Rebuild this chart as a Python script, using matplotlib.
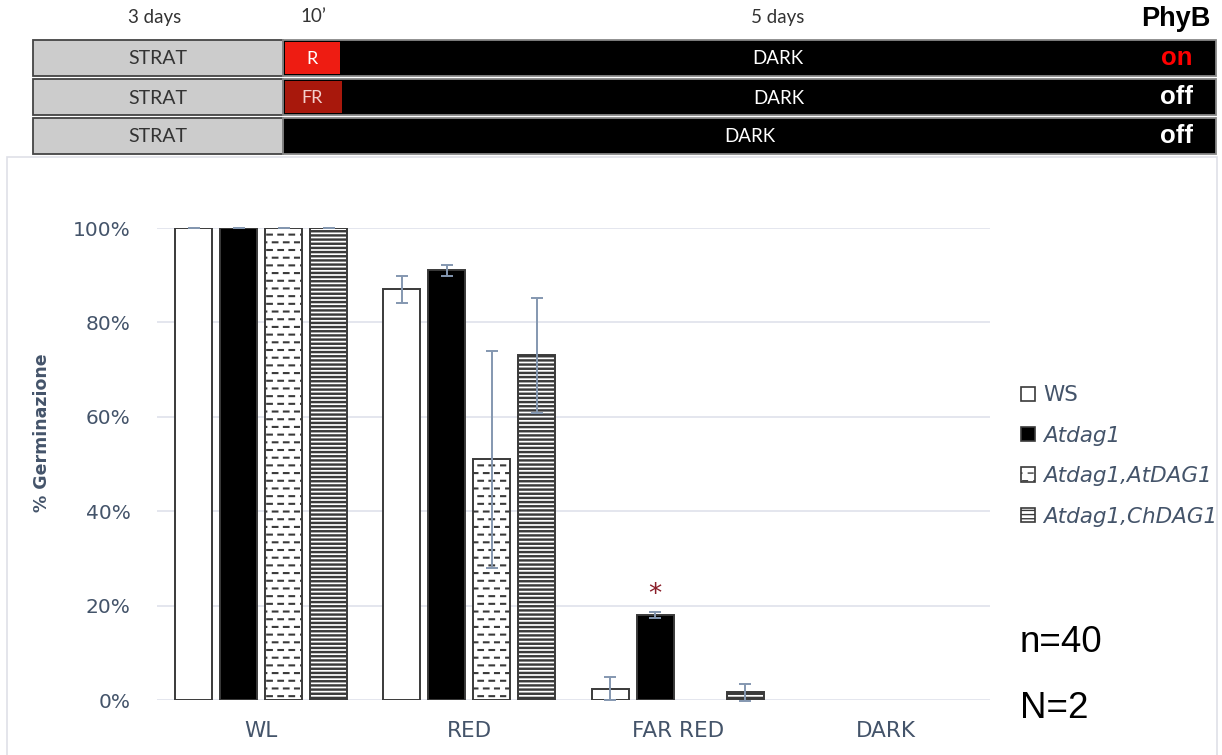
import warnings
import numpy as np
import matplotlib
matplotlib.use("Agg")
import matplotlib.pyplot as plt
from matplotlib import hatch as mhatch
from matplotlib.patches import Rectangle, Patch

warnings.filterwarnings("ignore", category=matplotlib.MatplotlibDeprecationWarning)

# ---------------------------------------------------------------- data
categories = ["WL", "RED", "FAR RED", "DARK"]
genotypes = ["WS", "Atdag1", "Atdag1,AtDAG1", "Atdag1,ChDAG1"]

ws_pct = [100, 87, 2.4, 0]
atdag1_pct = [100, 91, 18, 0]
atdag1_atdag1_pct = [100, 51, 0, 0]
atdag1_chdag1_pct = [100, 73, 1.6, 0]

ws_err = [0, 2.9, 2.4, 0]
atdag1_err = [0, 1.1, 0.6, 0]
atdag1_atdag1_err = [0, 23, 0, 0]
atdag1_chdag1_err = [0, 12.2, 1.8, 0]

significant = [(2, 1)]          # (category index, genotype index) marked with *

# protocol scheme
strat_label = "STRAT"
pulse_labels = ["R", "FR", None]
phyb_states = ["on", "off", "off"]
period_labels = ["3 days", "10\u2019", "5 days"]

# ---------------------------------------------------------------- styles
W, H = 1222, 755
TICK_COLOR = "#44546a"
ERR_COLOR = "#8497b0"
EDGE = "#3a3a3a"
plt.rcParams["hatch.color"] = "black"


class DashRows(mhatch.HatchPatternBase):
    """Staggered rows of short horizontal dashes ('d' in a hatch string)."""

    def __init__(self, hatch, density):
        n = hatch.count("d")
        self.rows = 13 * n
        self.cols = 9
        self.num_vertices = self.rows * self.cols * 2

    def set_vertices_and_codes(self, vertices, codes):
        k = 0
        for i in range(self.rows):
            y = (i + 0.5) / self.rows
            shift = 0.5 * (i % 2)
            for j in range(self.cols):
                x0 = (j + shift + 0.05) / self.cols
                x1 = x0 + 0.42 / self.cols
                vertices[k] = (x0, y)
                vertices[k + 1] = (x1, y)
                codes[k] = mhatch.Path.MOVETO
                codes[k + 1] = mhatch.Path.LINETO
                k += 2


mhatch._hatch_types.append(DashRows)

# (values, errors, face colour, hatch, hatch line width)
series = [
    (ws_pct, ws_err, "white", None, 1.0),
    (atdag1_pct, atdag1_err, "black", None, 1.0),
    (atdag1_atdag1_pct, atdag1_atdag1_err, "white", "d", 1.5),
    (atdag1_chdag1_pct, atdag1_chdag1_err, "white", "----", 1.75),
]

fig = plt.figure(figsize=(W / 100, H / 100), dpi=100)

# light frame round the chart area
fig.patches.append(Rectangle((7 / W, -0.01), (1217 - 7) / W, (H - 157) / H + 0.01,
                             transform=fig.transFigure, fill=False,
                             ec="#dfe0e8", lw=1.2))

# ---------------------------------------------------------------- bar chart
ax = fig.add_axes([157 / W, 55 / H, 833 / W, 472 / H])
x = np.arange(len(categories))
step, width = 0.216, 0.178

handles = []
for k, (vals, errs, fc, hatch, hlw) in enumerate(series):
    pos = x + (k - 1.5) * step
    with plt.rc_context({"hatch.linewidth": hlw}):
        bars = ax.bar(pos, vals, width, color=fc, edgecolor=EDGE, linewidth=1.4,
                      hatch=hatch, zorder=2)
        handles.append(Patch(facecolor=fc, edgecolor=EDGE, hatch=hatch, lw=1.2))
    for b, v in zip(bars, vals):
        if v == 0:
            b.set_visible(False)
    vals_a, errs_a = np.asarray(vals, float), np.asarray(errs, float)
    m = vals_a > 0
    ax.errorbar(pos[m], vals_a[m], yerr=errs_a[m], fmt="none", ecolor=ERR_COLOR,
                elinewidth=1.4, capsize=4, capthick=1.4, zorder=3, clip_on=False)

all_vals = [s[0] for s in series]
all_errs = [s[1] for s in series]
for ci, gi in significant:
    top = all_vals[gi][ci] + all_errs[gi][ci]
    ax.text(x[ci] + (gi - 1.5) * step, top + 0.8, "*", ha="center", va="bottom",
            color="#8b1f2a", fontsize=19, family="DejaVu Sans")

ax.set_xlim(-0.5, len(categories) - 0.5)
ax.set_ylim(0, 100)
ax.set_yticks(np.arange(0, 101, 20))
ax.set_yticklabels([f"{v}%" for v in range(0, 101, 20)])
ax.set_xticks(x)
ax.set_xticklabels(categories)
for lab in ax.get_xticklabels() + ax.get_yticklabels():
    lab.set_family("DejaVu Sans")
ax.tick_params(axis="y", length=0, pad=19, labelsize=14.5, labelcolor=TICK_COLOR)
ax.tick_params(axis="x", length=0, pad=15, labelsize=15.5, labelcolor=TICK_COLOR)
ax.grid(axis="y", color="#e4e6ee", lw=1.4)
ax.set_axisbelow(True)
for s in ax.spines.values():
    s.set_visible(False)

fig.text(42 / W, 1 - 433 / H, "% Germinazione", rotation=90, ha="center",
         va="center", fontsize=12.5, fontweight="bold", color=TICK_COLOR,
         family="DejaVu Sans")

# legend
leg = fig.legend(handles, genotypes, loc="center left",
                 bbox_to_anchor=(1021 / W, 1 - 456 / H), frameon=False,
                 borderpad=0, borderaxespad=0, handlelength=0.65,
                 handleheight=0.65, handletextpad=0.4, labelspacing=0.95,
                 prop={"family": "DejaVu Sans", "size": 15.5})
for i, t in enumerate(leg.get_texts()):
    t.set_color(TICK_COLOR)
    if i > 0:
        t.set_style("italic")

fig.text(1020 / W, 1 - 643 / H, "n=40", fontsize=26.5, va="center",
         family="Liberation Sans", color="black")
fig.text(1020 / W, 1 - 708 / H, "N=2", fontsize=26.5, va="center",
         family="Liberation Sans", color="black")

# ---------------------------------------------------------------- protocol scheme
axt = fig.add_axes([0, 1 - 160 / H, 1, 160 / H])
axt.set_xlim(0, W)
axt.set_ylim(160, 0)
axt.axis("off")

x_left, x_strat, x_right = 33, 283, 1216
x_pulse_end = [340, 342, None]
pulse_colors = ["#ee1c12", "#a8180c", None]
pulse_text = ["white", "#f3d0cc", None]
phyb_colors = ["#ff0000", "white", "white"]
row_tops = [40, 79, 118]
row_h = 36

for r, top in enumerate(row_tops):
    yc = top + row_h / 2
    axt.add_patch(Rectangle((x_left, top), x_strat - x_left, row_h,
                            fc="#cccccc", ec="#444444", lw=1.3))
    axt.add_patch(Rectangle((x_strat, top), x_right - x_strat, row_h,
                            fc="black", ec="#888888", lw=1.3))
    axt.text((x_left + x_strat) / 2, yc + 1, strat_label, ha="center",
             va="center", fontsize=14, color="#333333", family="Lato")
    dark_start = x_strat
    if pulse_labels[r]:
        xe = x_pulse_end[r]
        axt.add_patch(Rectangle((x_strat + 2, top + 2), xe - x_strat - 2,
                                row_h - 4, fc=pulse_colors[r], ec="none"))
        axt.text((x_strat + xe) / 2, yc + 1, pulse_labels[r], ha="center",
                 va="center", fontsize=13, color=pulse_text[r], family="Lato")
        dark_start = xe
    axt.text((dark_start + x_right) / 2, yc + 1, "DARK", ha="center",
             va="center", fontsize=13.5, color="white", family="Lato")
    axt.text(1193, yc, phyb_states[r], ha="right", va="center", fontsize=18.5,
             fontweight="bold", color=phyb_colors[r], family="Liberation Sans")

for xc, lab in zip([155, 313, 778], period_labels):
    axt.text(xc, 17, lab, ha="center", va="center", fontsize=13.5,
             color="#333333", family="Lato")
axt.text(1176, 19, "PhyB", ha="center", va="center", fontsize=19.5,
         fontweight="bold", color="black", family="Liberation Sans")

fig.savefig("out.png", dpi=100)
